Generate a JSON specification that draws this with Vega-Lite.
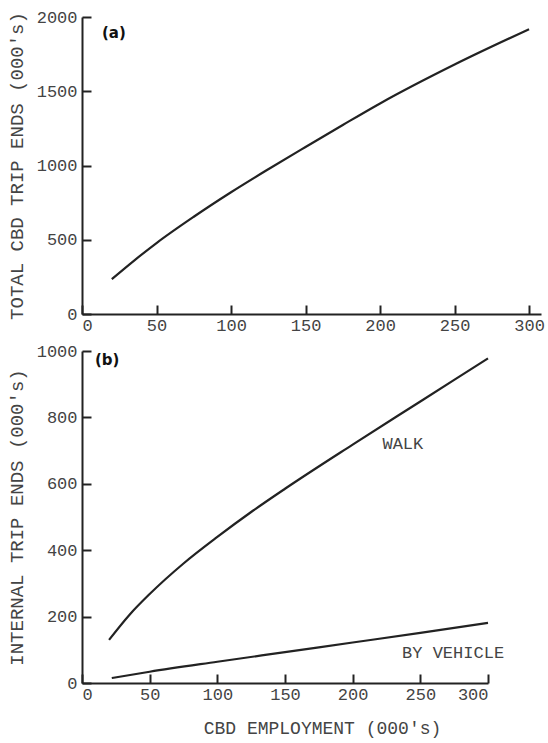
{
  "$schema": "https://vega.github.io/schema/vega-lite/v6.json",
  "padding": {"left": 7, "top": 8, "right": 0, "bottom": 2},
  "background": "white",
  "spacing": 9,
  "config": {
    "view": {"stroke": null},
    "font": "Liberation Mono",
    "axis": {
      "grid": false,
      "domainColor": "#222",
      "domainWidth": 2,
      "tickColor": "#222",
      "tickWidth": 2,
      "tickSize": -9,
      "format": "d",
      "labelFont": "Liberation Mono",
      "labelFontSize": 17,
      "labelColor": "#444",
      "titleFont": "Liberation Mono",
      "titleFontSize": 19,
      "titleFontWeight": "normal",
      "titleColor": "#444"
    },
    "axisX": {"labelPadding": 12, "labelAngle": 0},
    "axisY": {"labelPadding": 14, "titlePadding": 10}
  },
  "datasets": {
    "total": [
      {"emp": 20, "trips": 235},
      {"emp": 35, "trips": 360},
      {"emp": 50, "trips": 478},
      {"emp": 75, "trips": 655},
      {"emp": 100, "trips": 820},
      {"emp": 125, "trips": 975},
      {"emp": 150, "trips": 1125},
      {"emp": 175, "trips": 1273},
      {"emp": 200, "trips": 1418},
      {"emp": 250, "trips": 1680},
      {"emp": 300, "trips": 1918}
    ],
    "internal": [
      {"mode": "WALK", "emp": 20, "trips": 130},
      {"mode": "WALK", "emp": 35, "trips": 205},
      {"mode": "WALK", "emp": 50, "trips": 268},
      {"mode": "WALK", "emp": 75, "trips": 360},
      {"mode": "WALK", "emp": 100, "trips": 440},
      {"mode": "WALK", "emp": 125, "trips": 515},
      {"mode": "WALK", "emp": 150, "trips": 585},
      {"mode": "WALK", "emp": 200, "trips": 718},
      {"mode": "WALK", "emp": 250, "trips": 848},
      {"mode": "WALK", "emp": 300, "trips": 978},
      {"mode": "BY VEHICLE", "emp": 22, "trips": 15},
      {"mode": "BY VEHICLE", "emp": 50, "trips": 34},
      {"mode": "BY VEHICLE", "emp": 100, "trips": 64},
      {"mode": "BY VEHICLE", "emp": 150, "trips": 93},
      {"mode": "BY VEHICLE", "emp": 200, "trips": 122},
      {"mode": "BY VEHICLE", "emp": 250, "trips": 151},
      {"mode": "BY VEHICLE", "emp": 300, "trips": 181}
    ],
    "panelA": [{"label": "(a)", "emp": 13.4, "trips": 1891}],
    "panelB": [{"label": "(b)", "emp": 9.6, "trips": 973}],
    "curveLabels": [
      {"label": "WALK", "emp": 222, "trips": 720},
      {"label": "BY VEHICLE", "emp": 236.5, "trips": 90}
    ]
  },
  "vconcat": [
    {
      "width": 459,
      "height": 297,
      "layer": [
        {
          "data": {"name": "total"},
          "mark": {"type": "line", "color": "#222", "strokeWidth": 2.2, "interpolate": "monotone"},
          "encoding": {
            "x": {"field": "emp", "type": "quantitative",
                  "scale": {"domain": [0, 308], "nice": false},
                  "axis": {"title": null, "values": [0, 50, 100, 150, 200, 250, 300]}},
            "y": {"field": "trips", "type": "quantitative",
                  "scale": {"domain": [0, 2000], "nice": false},
                  "axis": {"title": "TOTAL CBD TRIP ENDS (000's)", "values": [0, 500, 1000, 1500, 2000]}}
          }
        },
        {
          "data": {"name": "panelA"},
          "mark": {"type": "text", "font": "DejaVu Sans", "fontWeight": "bold", "fontSize": 15, "align": "left", "baseline": "middle", "color": "#111"},
          "encoding": {
            "x": {"field": "emp", "type": "quantitative"},
            "y": {"field": "trips", "type": "quantitative"},
            "text": {"field": "label"}
          }
        }
      ]
    },
    {
      "width": 406,
      "height": 332,
      "layer": [
        {
          "data": {"name": "internal"},
          "mark": {"type": "line", "color": "#222", "strokeWidth": 2.2, "interpolate": "monotone"},
          "encoding": {
            "x": {"field": "emp", "type": "quantitative",
                  "scale": {"domain": [0, 300], "nice": false},
                  "axis": {"title": "CBD EMPLOYMENT (000's)", "values": [0, 50, 100, 150, 200, 250, 300],
                           "titleX": 240, "titleY": 45, "titleFontSize": 18, "titleAlign": "center", "titleBaseline": "middle"}},
            "y": {"field": "trips", "type": "quantitative",
                  "scale": {"domain": [0, 1000], "nice": false},
                  "axis": {"title": "INTERNAL TRIP ENDS (000's)", "values": [0, 200, 400, 600, 800, 1000]}},
            "detail": {"field": "mode"}
          }
        },
        {
          "data": {"name": "panelB"},
          "mark": {"type": "text", "font": "DejaVu Sans", "fontWeight": "bold", "fontSize": 15, "align": "left", "baseline": "middle", "color": "#111"},
          "encoding": {
            "x": {"field": "emp", "type": "quantitative"},
            "y": {"field": "trips", "type": "quantitative"},
            "text": {"field": "label"}
          }
        },
        {
          "data": {"name": "curveLabels"},
          "mark": {"type": "text", "font": "Liberation Mono", "fontSize": 17, "align": "left", "baseline": "middle", "color": "#444"},
          "encoding": {
            "x": {"field": "emp", "type": "quantitative"},
            "y": {"field": "trips", "type": "quantitative"},
            "text": {"field": "label"}
          }
        }
      ]
    }
  ]
}
